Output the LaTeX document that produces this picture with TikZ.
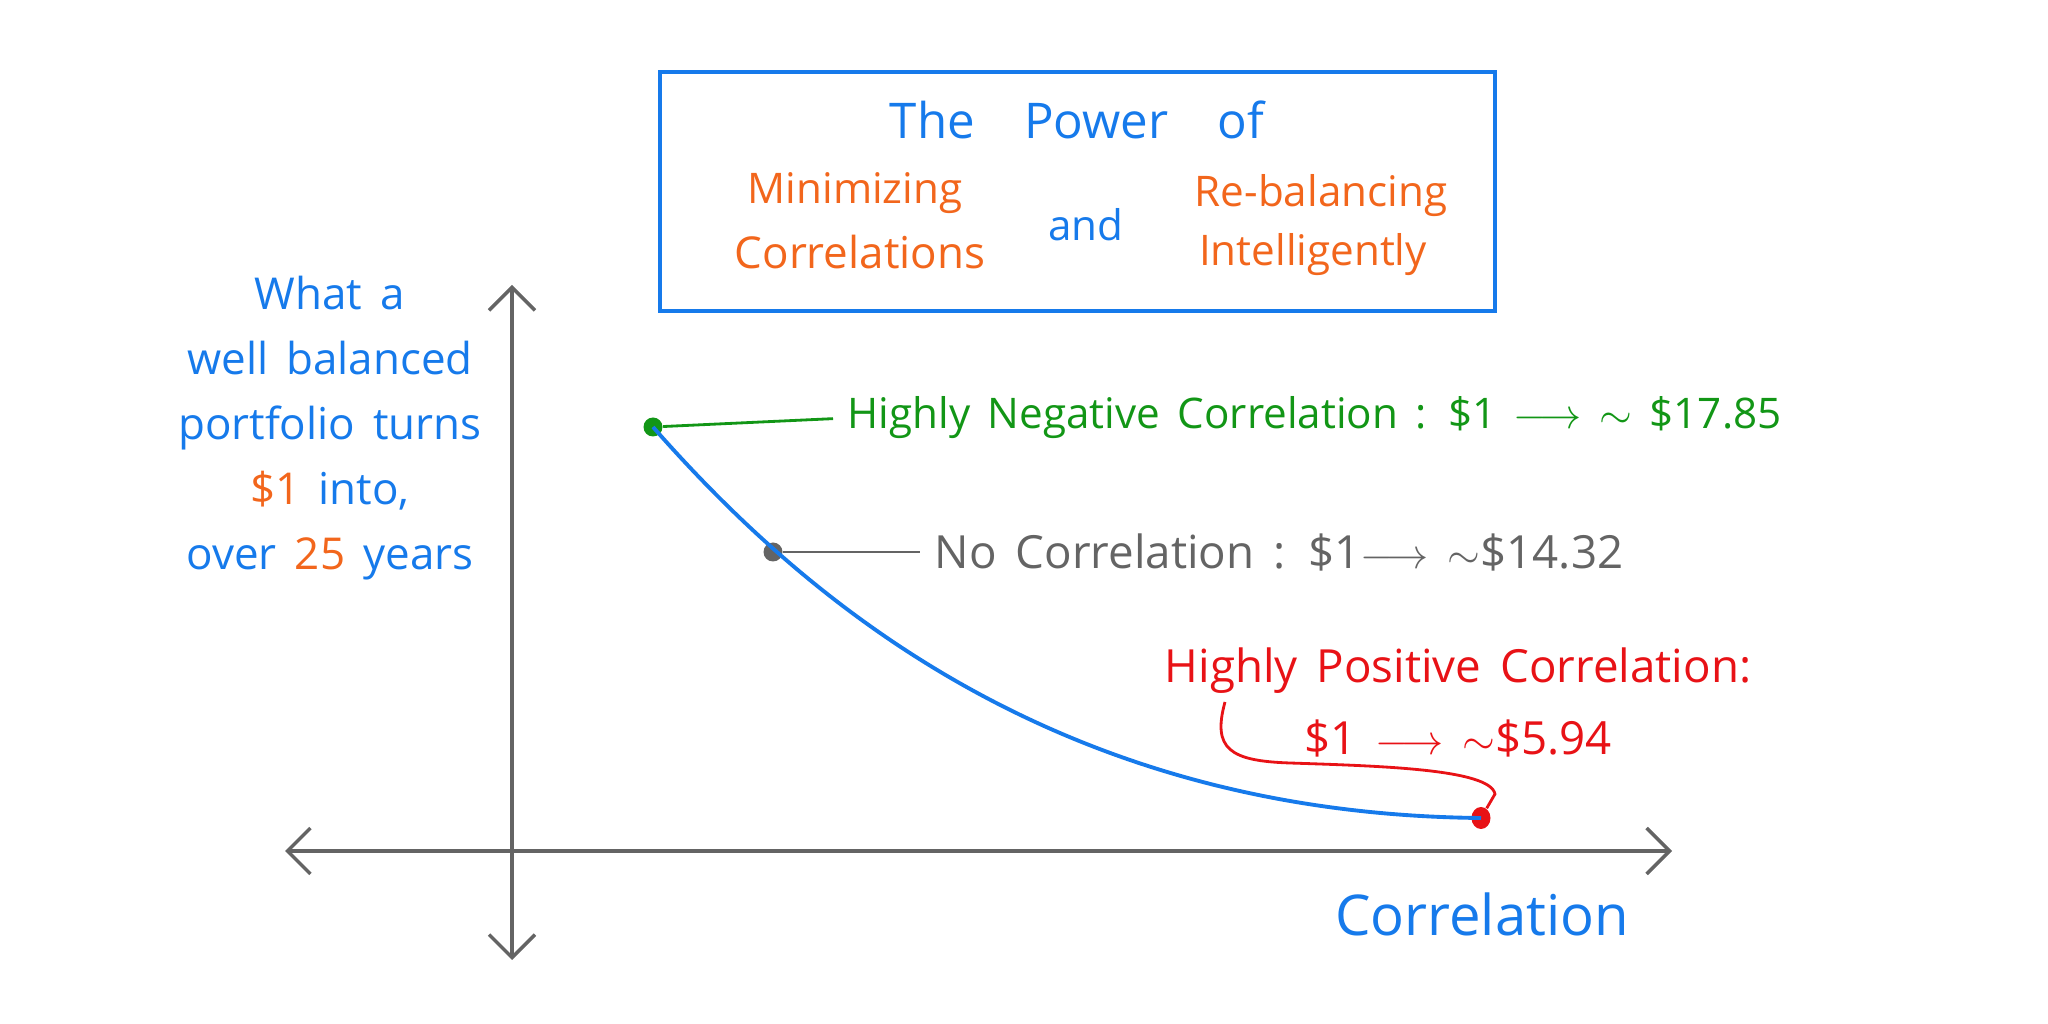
\documentclass[tikz,border=0pt]{standalone}
\usepackage{fontspec}
\setmainfont[WordSpace=1.6]{Open Sans}
\usetikzlibrary{positioning,arrows.meta,shapes.geometric}

\definecolor{penblue}{RGB}{22,122,235}
\definecolor{penorange}{RGB}{242,102,28}
\definecolor{pengreen}{RGB}{18,150,22}
\definecolor{pengray}{RGB}{100,100,100}
\definecolor{penred}{RGB}{232,18,22}

\begin{document}
\begin{tikzpicture}[
    hand/.style={inner sep=0pt,font=\fontsize{12}{14}\selectfont},
    big/.style={inner sep=0pt,font=\fontsize{14}{16}\selectfont},
    dot/.style={circle,inner sep=0pt,minimum size=1.9mm},
    axis/.style={draw=pengray,line width=1pt,
      {Straight Barb[length=2.3mm,width=4.6mm]}-{Straight Barb[length=2.3mm,width=4.6mm]}},
    leader/.style={line width=0.8pt,shorten >=1.4mm}]
  \useasboundingbox (0,0) rectangle (20.48,10.24);

  % title box
  \node[draw=penblue,line width=1.4pt,minimum width=8.35cm,minimum height=2.39cm] (box) at (10.775,8.325) {};
  \node[big,penblue]       (power) at (10.77,9.04) {The\quad Power\quad of};
  \node[hand,penorange]    (mini)  at (8.55,8.31)  {Minimizing};
  \node[hand,penorange,font=\fontsize{12.5}{14}\selectfont] (corr) at (8.60,7.72) {Correlations};
  \node[hand,penblue]      (and)   at (10.86,7.99) {and};
  \node[hand,penorange]    (rebal) at (13.21,8.28) {Re-balancing};
  \node[hand,penorange]    (intel) at (13.13,7.69) {Intelligently};

  % axes
  \coordinate (ybot) at (5.12,0.64);
  \coordinate (ytop) at (5.12,7.39);
  \coordinate (xlft) at (2.85,1.73);
  \coordinate (xrgt) at (16.72,1.73);
  \draw[axis] (ybot) -- (ytop);
  \draw[axis] (xlft) -- (xrgt);

  \node[hand,penblue,align=center,font=\fontsize{12.5}{18.5}\selectfont] (ylabel) at (3.30,5.96)
    {What a\\ well balanced\\ portfolio turns\\ \textcolor{penorange}{\$1} into,\\ over \textcolor{penorange}{25} years};
  \node[hand,penblue,font=\fontsize{16}{18}\selectfont] (xlabel) at (14.82,1.10) {Correlation};

  % curve and points
  \node[dot,fill=pengreen] (neg) at (6.53,5.97) {};
  \node[dot,fill=pengray]  (nil) at (7.73,4.72) {};
  \node[dot,fill=penred,minimum width=1.9mm,minimum height=2.2mm,ellipse] (pos) at (14.81,2.06) {};
  \draw[penblue,line width=1.1pt] (neg.center) .. controls (8.0,4.3) and (10.5,2.1) .. (pos.center);

  % labels
  \node[hand,pengreen,anchor=west] (negtxt) at (8.47,6.06)
    {Highly Negative Correlation : \$1 $\longrightarrow$ $\sim$ \$17.85};
  \node[hand,pengray,anchor=west,font=\fontsize{13}{15}\selectfont] (niltxt) at (9.34,4.72)
    {No Correlation : \$1$\longrightarrow$ $\sim$\$14.32};
  \node[hand,penred,align=center,font=\fontsize{13}{20.5}\selectfont] (postxt) at (14.58,3.22)
    {Highly Positive Correlation:\\ \$1 $\longrightarrow$ $\sim$\$5.94};
  \coordinate (posstart) at (12.25,3.22);

  \draw[leader,pengreen] (neg) -- (negtxt.west);
  \draw[leader,pengray]  (nil) -- (niltxt.west);
  \draw[leader,penred,shorten >=0pt] (posstart) .. controls (12.12,2.75) and (12.3,2.63) .. (12.9,2.61)
    .. controls (13.8,2.58) and (14.9,2.55) .. (14.95,2.3) -- (pos);
\end{tikzpicture}
\end{document}
